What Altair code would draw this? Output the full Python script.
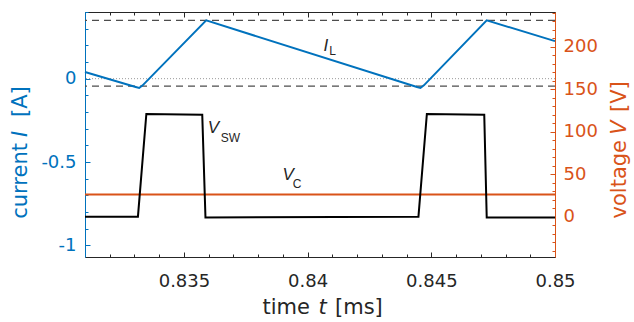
import altair as alt
import pandas as pd

BLUE = "#0072BD"
ORANGE = "#D95319"
INK = "#262626"
AXIS_FONT = "DejaVu Sans"
NOTE_FONT = "Liberation Sans"

W, H = 470, 245

T_DOMAIN = [0.831, 0.85]
I_DOMAIN = [-1.07, 0.4]
V_DOMAIN = [-47.5, 241]

# inductor current I_L [A] over time [ms]
il_time = [0.831, 0.83305, 0.83319, 0.83333, 0.8359, 0.84442, 0.84456, 0.8447, 0.84724, 0.85]
il_amp = [0.04, -0.05, -0.056, -0.04, 0.35, -0.05, -0.056, -0.04, 0.35, 0.225]

# switch-node voltage V_SW [V]
sw_time = [0.831, 0.83314, 0.83348, 0.83574, 0.83587, 0.84448, 0.84482, 0.84714, 0.84724, 0.85]
sw_volt = [0, 0, 121, 120, -1, 0, 121, 120, -1, -1]

# capacitor voltage V_C [V]
vc_time = [0.831, 0.85]
vc_volt = [26, 26]

# current reference levels [A]
i_peak = 0.35
i_valley = -0.045
i_zero = 0.0

# tick positions
t_major = [0.835, 0.84, 0.845, 0.85]
t_minor = [round(0.831 + 0.001 * k, 3) for k in range(20)]
i_major = [-1, -0.5, 0]
i_minor = [round(-1.0 + 0.1 * k, 1) for k in range(15)]
v_major = [0, 50, 100, 150, 200]
v_minor = [-40 + 10 * k for k in range(29)]

# curve annotations (position in data units)
i_note = pd.DataFrame({"t": [0.84074], "v": [0.196], "txt": ["I"]})
i_sub = pd.DataFrame({"t": [0.84101], "v": [0.168], "txt": ["L"]})
v_note = pd.DataFrame({"t": [0.83619, 0.83921], "v": [104.9, 49.0], "txt": ["V", "V"]})
v_sub = pd.DataFrame({"t": [0.83688, 0.83957], "v": [93.2, 38.0], "txt": ["SW", "C"]})

# axis titles, split so the variable symbol can be set in italics
title_head = pd.DataFrame({
    "txt": ["time", "current", "voltage"],
    "px": [225, -58, 541],
    "py": [301.5, 131, 128],
    "ang": [0, 270, 270],
    "col": [INK, BLUE, ORANGE],
})
title_symbol = pd.DataFrame({
    "txt": ["t", "I", "V"],
    "px": [237.5, -58, 541],
    "py": [301.5, 122, 115.5],
    "ang": [0, 270, 270],
    "col": [INK, BLUE, ORANGE],
})
title_unit = pd.DataFrame({
    "txt": ["[ms]", "[A]", "[V]"],
    "px": [250, -58, 541],
    "py": [301.5, 105, 100],
    "ang": [0, 270, 270],
    "col": [INK, BLUE, ORANGE],
})


def t_scale():
    return alt.Scale(domain=T_DOMAIN, nice=False, zero=False)


def i_scale():
    return alt.Scale(domain=I_DOMAIN, nice=False, zero=False)


def v_scale():
    return alt.Scale(domain=V_DOMAIN, nice=False, zero=False)


def edge_axis(orient, values, size, color, offset=0, domain_color=None):
    kw = dict(orient=orient, values=values, labels=False, ticks=True,
              tickSize=size, tickColor=color, tickWidth=1, grid=False,
              title=None, offset=offset)
    if domain_color:
        kw.update(domain=True, domainColor=domain_color, domainWidth=1)
    else:
        kw.update(domain=False)
    return alt.Axis(**kw)


def label_axis(orient, values, color, pad):
    return alt.Axis(orient=orient, values=values, labelExpr="toString(datum.value)",
                    ticks=False, tickSize=0, domain=True, domainColor=color,
                    domainWidth=1, labelColor=color, labelFont=AXIS_FONT,
                    labelFontSize=18, labelPadding=pad, labelFlush=False,
                    labelOverlap=False, grid=False, title=None)


def title_layer(df, align, italic=False):
    style = {"fontStyle": "italic"} if italic else {}
    return alt.Chart(df).mark_text(
        font=AXIS_FONT, fontSize=21, baseline="alphabetic", align=align, **style
    ).encode(
        x=alt.X("px:Q", scale=None, axis=None),
        y=alt.Y("py:Q", scale=None, axis=None),
        angle=alt.Angle("ang:Q", scale=None),
        color=alt.Color("col:N", scale=None),
        text="txt:N",
    )


il_df = pd.DataFrame({"t": il_time, "v": il_amp})
sw_df = pd.DataFrame({"t": sw_time, "v": sw_volt})
vc_df = pd.DataFrame({"t": vc_time, "v": vc_volt})

current_line = alt.Chart(il_df).mark_line(color=BLUE, strokeWidth=2).encode(
    x=alt.X("t:Q", scale=t_scale(), axis=label_axis("bottom", t_major, INK, 15)),
    y=alt.Y("v:Q", scale=i_scale(), axis=label_axis("left", i_major, BLUE, 9)),
)

peak_rule = alt.Chart(pd.DataFrame({"v": [i_peak]})).mark_rule(
    color="#4d4d4d", strokeWidth=1.2, strokeDash=[7, 5]
).encode(y=alt.Y("v:Q", scale=i_scale(), axis=edge_axis("right", i_major, 5, BLUE, -W)))

valley_rule = alt.Chart(pd.DataFrame({"v": [i_valley]})).mark_rule(
    color="#4d4d4d", strokeWidth=1.2, strokeDash=[7, 5]
).encode(y=alt.Y("v:Q", scale=i_scale(), axis=edge_axis("right", i_minor, 3, BLUE, -W)))

zero_rule = alt.Chart(pd.DataFrame({"v": [i_zero]})).mark_rule(
    color="#9a9a9a", strokeWidth=1, strokeDash=[1, 2]
).encode(y=alt.Y("v:Q", scale=i_scale(), axis=None))

vc_line = alt.Chart(vc_df).mark_line(color=ORANGE, strokeWidth=2).encode(
    x=alt.X("t:Q", scale=t_scale(), axis=edge_axis("bottom", t_major, 5, INK, -H, INK)),
    y=alt.Y("v:Q", scale=v_scale(), axis=label_axis("right", v_major, ORANGE, 8)),
)

sw_line = alt.Chart(sw_df).mark_line(color="black", strokeWidth=2).encode(
    x=alt.X("t:Q", scale=t_scale(), axis=edge_axis("top", t_major, 5, INK, -H)),
    y=alt.Y("v:Q", scale=v_scale(), axis=edge_axis("left", v_major, 5, ORANGE, -W)),
)

i_note_layer = alt.Chart(i_note).mark_text(
    font=NOTE_FONT, fontSize=17, fontStyle="italic", color=INK, baseline="middle"
).encode(
    x=alt.X("t:Q", scale=t_scale(), axis=edge_axis("top", t_minor, 3, INK, -H)),
    y=alt.Y("v:Q", scale=i_scale(), axis=None),
    text="txt:N",
)

i_sub_layer = alt.Chart(i_sub).mark_text(
    font=NOTE_FONT, fontSize=12, color=INK, baseline="middle"
).encode(
    x=alt.X("t:Q", scale=t_scale(), axis=edge_axis("bottom", t_minor, 3, INK, -H)),
    y=alt.Y("v:Q", scale=i_scale(), axis=None),
    text="txt:N",
)

v_note_layer = alt.Chart(v_note).mark_text(
    font=NOTE_FONT, fontSize=17, fontStyle="italic", color=INK, baseline="middle"
).encode(
    x=alt.X("t:Q", scale=t_scale(), axis=None),
    y=alt.Y("v:Q", scale=v_scale(), axis=edge_axis("left", v_minor, 3, ORANGE, -W)),
    text="txt:N",
)

v_sub_layer = alt.Chart(v_sub).mark_text(
    font=NOTE_FONT, fontSize=12, color=INK, baseline="middle"
).encode(
    x=alt.X("t:Q", scale=t_scale(), axis=None),
    y=alt.Y("v:Q", scale=v_scale(), axis=None),
    text="txt:N",
)

chart = alt.layer(
    zero_rule, peak_rule, valley_rule, vc_line, sw_line, current_line,
    i_note_layer, i_sub_layer, v_note_layer, v_sub_layer,
    title_layer(title_head, "right"),
    title_layer(title_symbol, "center", italic=True),
    title_layer(title_unit, "left"),
).resolve_scale(
    x="independent", y="independent"
).properties(
    width=W, height=H,
    autosize=alt.AutoSizeParams(type="none"),
    padding={"left": 85, "top": 12, "right": 79, "bottom": 65},
    background="white",
).configure_view(stroke=None)

chart.save("out.html", embed_options={"renderer": "svg", "actions": False})
